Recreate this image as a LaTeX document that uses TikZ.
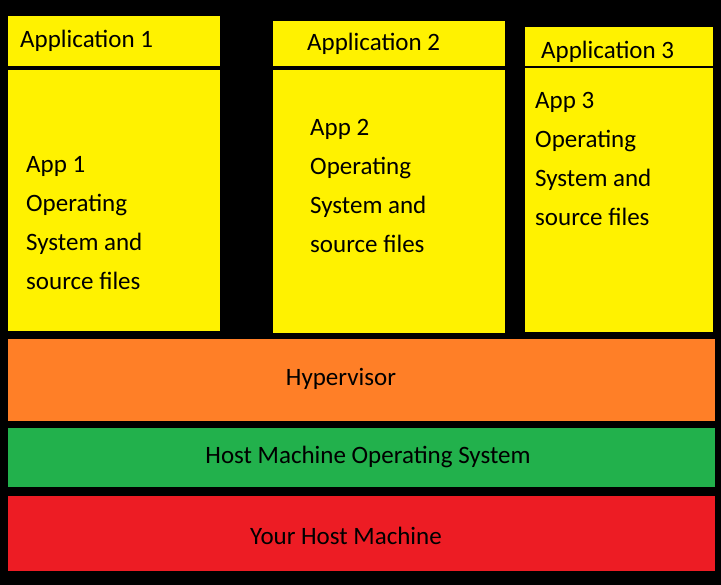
\documentclass[tikz,border=0pt]{standalone}
\usepackage{fontspec}
\setmainfont{Carlito}
\usepackage{tikz}
\definecolor{appyellow}{HTML}{FFF200}
\definecolor{hvorange}{HTML}{FF7F27}
\definecolor{osgreen}{HTML}{22B14C}
\definecolor{hostred}{HTML}{ED1C24}
\tikzset{box/.style={rectangle, draw=none, inner sep=0pt, anchor=north west},
  txt/.style={inner sep=0pt, font=\fontsize{25}{39}\selectfont, align=left}}
\begin{document}
\begin{tikzpicture}[x=1pt,y=-1pt]
    \fill[black] (0,0) rectangle (721,585);
    \useasboundingbox (0,0) rectangle (721,585);
    % application headers
    \node[box, fill=appyellow, minimum width=212pt, minimum height=50pt] (head1) at (8,16) {};
    \node[box, fill=appyellow, minimum width=232pt, minimum height=45pt] (head2) at (273,21) {};
    \node[box, fill=appyellow, minimum width=188pt, minimum height=39pt] (head3) at (525,27) {};
    \node[txt, anchor=west] (lab1) at (20,41) {Application 1};
    \node[txt, anchor=west] (lab2) at (307,44) {Application 2};
    \node[txt, anchor=west] (lab3) at (541,52) {Application 3};
    % application bodies
    \node[box, fill=appyellow, minimum width=212pt, minimum height=261pt] (body1) at (8,70) {};
    \node[box, fill=appyellow, minimum width=232pt, minimum height=263pt] (body2) at (273,70) {};
    \node[box, fill=appyellow, minimum width=188pt, minimum height=264pt] (body3) at (525,68) {};
    \node[txt, anchor=north west] (os1) at (26,156) {App 1\\Operating\\System and\\source files};
    \node[txt, anchor=north west] (os2) at (310,119) {App 2\\Operating\\System and\\source files};
    \node[txt, anchor=north west] (os3) at (535,92) {App 3\\Operating\\System and\\source files};
    % layers
    \node[box, fill=hvorange, minimum width=707pt, minimum height=82pt] (hyper) at (8,339) {};
    \node[box, fill=osgreen, minimum width=707pt, minimum height=59pt] (hostos) at (8,428) {};
    \node[box, fill=hostred, minimum width=707pt, minimum height=75pt] (host) at (8,496) {};
    \node[txt] (hyperlab) at (341,379) {Hypervisor};
    \node[txt] (hostoslab) at (368,457) {Host Machine Operating System};
    \node[txt] (hostlab) at (346,536) {Your Host Machine};
\end{tikzpicture}
\end{document}
